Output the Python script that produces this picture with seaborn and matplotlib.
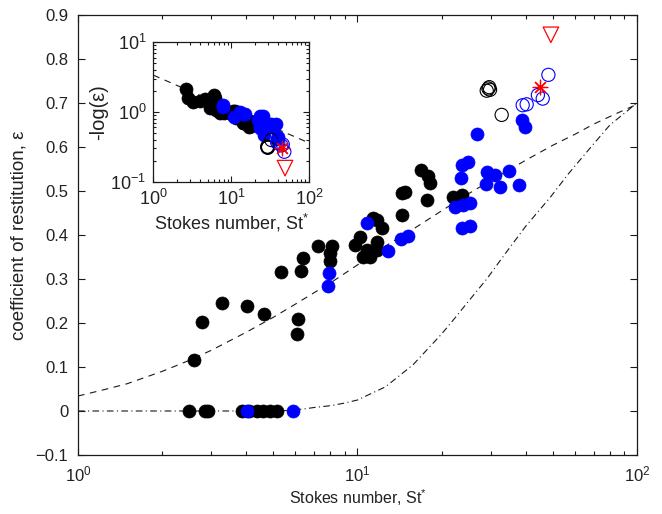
import numpy as np
import pandas as pd
import matplotlib
matplotlib.use("Agg")
import matplotlib.pyplot as plt
import seaborn as sns
from matplotlib.ticker import FixedLocator, FuncFormatter, LogLocator, NullFormatter

# ---- measured collisions: Stokes number St* and coefficient of restitution eps ----
black_st = [2.50, 2.85, 2.93, 3.85, 4.10, 4.36, 4.60, 4.86, 5.14,
            2.60, 2.78, 3.28, 4.01, 4.63, 6.14, 6.09, 5.31, 6.26, 6.40,
            7.24, 8.13, 7.97, 8.00, 9.8, 10.2, 10.5, 10.8, 11.1, 11.7,
            11.7, 11.4, 11.7, 12.2, 14.4, 14.4, 14.8, 17.7, 16.9, 17.9,
            18.2, 22.0, 23.6]
black_eps = [0, 0, 0, 0, 0, 0, 0, 0, 0,
             0.116, 0.203, 0.245, 0.239, 0.220, 0.208, 0.174, 0.317, 0.319, 0.347,
             0.375, 0.375, 0.342, 0.359, 0.377, 0.396, 0.351, 0.366, 0.351, 0.385,
             0.366, 0.438, 0.434, 0.415, 0.445, 0.495, 0.498, 0.480, 0.548, 0.533,
             0.518, 0.487, 0.491]

blue_st = [4.01, 5.86, 7.93, 7.82, 10.8, 12.9, 14.3, 15.1,
           22.4, 23.9, 25.3, 23.6, 25.3, 23.5, 23.6, 24.9,
           29.0, 31.0, 34.7, 28.8, 32.4, 37.9, 26.7, 38.7, 39.7]
blue_eps = [0, 0, 0.313, 0.283, 0.427, 0.364, 0.390, 0.398,
            0.464, 0.468, 0.472, 0.415, 0.420, 0.529, 0.559, 0.567,
            0.544, 0.536, 0.546, 0.515, 0.510, 0.514, 0.630, 0.661, 0.646]

black_open_st = [29.0, 29.4, 29.8, 29.6, 32.8]
black_open_eps = [0.728, 0.733, 0.730, 0.736, 0.673]

blue_open_st = [39.0, 40.3, 44.2, 46.0, 48.2]
blue_open_eps = [0.695, 0.697, 0.718, 0.710, 0.764]

star_st = [45.0]
star_eps = [0.736]

tri_st = [49.2]
tri_eps = [0.855]

# ---- model curves ----
model_st = [1, 1.25, 1.5, 2, 2.5, 3, 4, 5, 6, 7, 8, 10, 12, 15, 20, 25, 30, 40, 50, 60, 70, 85, 100]
model_eps = [0.034, 0.049, 0.062, 0.090, 0.115, 0.138, 0.179, 0.213, 0.243, 0.269,
             0.291, 0.332, 0.367, 0.404, 0.455, 0.494, 0.524, 0.570, 0.604, 0.629,
             0.652, 0.677, 0.697]

cutoff_st = [1, 2, 3, 4, 5, 5.5, 6, 6.5, 7, 8, 9, 10, 12.6, 15.8, 20, 22.3, 25, 29,
             34, 40, 49, 57, 67, 80, 100]
cutoff_eps = [0, 0, 0, 0, 0.0005, 0.001, 0.003, 0.005, 0.008, 0.012, 0.018, 0.025,
              0.055, 0.105, 0.175, 0.211, 0.25, 0.30, 0.36, 0.42, 0.486, 0.54,
              0.593, 0.65, 0.70]

# power law for -log(eps) in the inset
fit_st = [1, 100]
fit_neglog = [3.38, 0.36]

BLACK, BLUE, RED = "#000000", "#0000ff", "#ff0000"

sns.set_theme(style="ticks")
plt.rcParams["font.family"] = ["Liberation Sans", "DejaVu Sans"]
plt.rcParams["mathtext.fontset"] = "custom"
plt.rcParams["mathtext.rm"] = "Liberation Sans"
plt.rcParams["mathtext.it"] = "Liberation Sans:italic"
plt.rcParams["axes.linewidth"] = 0.9

fig = plt.figure(figsize=(6.62, 5.14), dpi=100)
ax = fig.add_axes([0.1178, 0.1148, 0.8444, 0.856])


def frame(df_list, axis, ycol):
    """Scatter each marker group on the given axes."""
    for df, kw in df_list:
        sns.scatterplot(data=df, x="St", y=ycol, ax=axis, legend=False, zorder=3, **kw)


def groups():
    def mk(st, eps):
        d = pd.DataFrame({"St": st, "eps": eps})
        with np.errstate(divide="ignore"):
            d["neglog"] = -np.log(d["eps"])
        return d
    return [
        (mk(black_st, black_eps), dict(color=BLACK, edgecolor=BLACK, s=88, linewidth=0.5)),
        (mk(blue_st, blue_eps), dict(color=BLUE, edgecolor=BLUE, s=88, linewidth=0.5)),
        (mk(black_open_st, black_open_eps), dict(facecolors="none", edgecolor=BLACK, s=90, linewidth=0.8)),
        (mk(blue_open_st, blue_open_eps), dict(facecolors="none", edgecolor=BLUE, s=90, linewidth=0.8)),
        (mk(star_st, star_eps), dict(marker=(8, 2, 0), color=RED, edgecolor=RED, s=110, linewidth=0.9)),
        (mk(tri_st, tri_eps), dict(marker="v", facecolors="none", edgecolor=RED, s=125, linewidth=0.9)),
    ]


# main axes
sns.lineplot(x=model_st, y=model_eps, ax=ax, color="k", lw=0.8, estimator=None, sort=False,
             dashes=False, linestyle=(0, (6, 5)))
sns.lineplot(x=cutoff_st, y=cutoff_eps, ax=ax, color="k", lw=0.8, estimator=None, sort=False,
             dashes=False, linestyle=(0, (6, 3, 1, 3)))

frame(groups(), ax, "eps")

ax.set_xscale("log")
ax.set_xlim(1, 100)
ax.set_ylim(-0.1, 0.9)
ax.yaxis.set_major_locator(FixedLocator(np.round(np.arange(-0.1, 0.91, 0.1), 1)))
ax.yaxis.set_major_formatter(FuncFormatter(lambda v, _: f"{v:g}".replace("-", "\u2212")))
ax.xaxis.set_major_locator(LogLocator(base=10, numticks=10))
ax.xaxis.set_minor_locator(LogLocator(base=10, subs=np.arange(2, 10), numticks=20))
ax.xaxis.set_minor_formatter(NullFormatter())
ax.tick_params(which="both", direction="in", top=True, right=True, labelsize=12, color="k",
               labelcolor="#222222", width=0.8, pad=7)
ax.tick_params(which="major", length=5)
ax.tick_params(which="minor", length=3)
ax.set_xlabel("Stokes number, St$^{*}$", fontsize=11.5, color="#222222", labelpad=2)
ax.set_ylabel("coefficient of restitution, \u03b5", fontsize=13.5, color="#222222", labelpad=6)
for sp in ax.spines.values():
    sp.set_color("k")

# inset: -log(eps) versus St*
ins = fig.add_axes([0.2316, 0.6465, 0.2352, 0.2712])
sns.lineplot(x=fit_st, y=fit_neglog, ax=ins, color="k", lw=0.8, estimator=None, sort=False,
             dashes=False, linestyle=(0, (6, 5)))
inset_groups = []
for df, kw in groups():
    inset_groups.append((df[df["eps"] > 0], kw))
frame(inset_groups, ins, "neglog")
ins.set_xscale("log")
ins.set_yscale("log")
ins.set_xlim(1, 100)
ins.set_ylim(0.1, 10)
ins.xaxis.set_major_locator(LogLocator(base=10, numticks=10))
ins.yaxis.set_major_locator(LogLocator(base=10, numticks=10))
ins.xaxis.set_minor_formatter(NullFormatter())
ins.yaxis.set_minor_formatter(NullFormatter())
ins.tick_params(which="both", direction="in", top=True, right=True, labelsize=13, color="k",
                labelcolor="#222222", width=0.8, pad=5)
ins.tick_params(which="major", length=4)
ins.tick_params(which="minor", length=2)
ins.set_xlabel("Stokes number, St$^{*}$", fontsize=13, color="#222222", labelpad=2)
ins.set_ylabel("-log(\u03b5)", fontsize=14.5, color="#222222", labelpad=2)
for sp in ins.spines.values():
    sp.set_color("k")

fig.savefig("out.png", dpi=100)
